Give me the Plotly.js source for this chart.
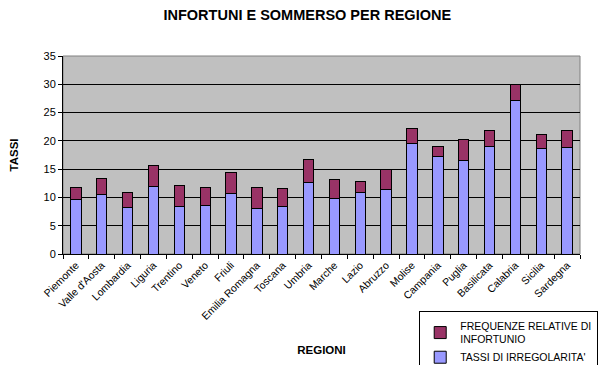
<!DOCTYPE html>
<html><head><meta charset="utf-8">
<script src="https://cdn.plot.ly/plotly-3.0.1.min.js"></script>
<style>body{margin:0;background:#fff}#c{width:599px;height:365px}</style>
</head><body><div id="c"></div>
<script>
const regioni = ["Piemonte","Valle d'Aosta","Lombardia","Liguria","Trentino","Veneto","Friuli","Emilia Romagna","Toscana","Umbria","Marche","Lazio","Abruzzo","Molise","Campania","Puglia","Basilicata","Calabria","Sicilia","Sardegna"];
const tassiIrregolarita = [9.7,10.6,8.3,12.0,8.4,8.6,10.7,8.1,8.4,12.7,9.8,10.9,11.4,19.6,17.3,16.6,19.0,27.2,18.7,18.9];
const frequenzeInfortunio = [2.1,2.8,2.6,3.7,3.7,3.2,3.7,3.7,3.2,4.0,3.4,1.9,3.5,2.6,1.7,3.7,2.9,2.8,2.5,3.0];
const yTicks = [0,5,10,15,20,25,30,35];

const traces = [
  {type:'bar', name:"TASSI DI IRREGOLARITA'", x:regioni, y:tassiIrregolarita,
   marker:{color:'#9999FF', line:{color:'#000', width:1}}},
  {type:'bar', name:"FREQUENZE RELATIVE DI<br>INFORTUNIO", x:regioni, y:frequenzeInfortunio,
   marker:{color:'#993366', line:{color:'#000', width:1}}}
];
const layout = {
  width:599, height:365, barmode:'stack', bargap:0.6,
  margin:{l:63, r:19, t:56, b:111, autoexpand:false},
  paper_bgcolor:'#fff', plot_bgcolor:'#C0C0C0',
  font:{family:'Arial, Liberation Sans, sans-serif', color:'#000', size:11},
  title:{text:'<b>INFORTUNI E SOMMERSO PER REGIONE</b>', x:0.513, xanchor:'center', y:0.96, yanchor:'middle', font:{size:14.5}},
  xaxis:{type:'category', tickangle:-45, tickson:'boundaries', ticks:'outside', ticklen:4, tickcolor:'#000',
    showline:true, linecolor:'#000', linewidth:1, showgrid:false, tickfont:{size:10.5}, automargin:false,
    title:{text:'<b>REGIONI</b>', font:{size:11.5}, standoff:24}},
  yaxis:{range:[0,35], tickvals:yTicks, ticks:'outside', ticklen:4, tickcolor:'#000', automargin:false,
    showline:true, linecolor:'#000', linewidth:1, gridcolor:'#000', gridwidth:1, zeroline:false,
    tickfont:{size:11}, title:{text:'<b>TASSI</b>', font:{size:11.5}, standoff:22}},
  showlegend:true,
  legend:{traceorder:'reversed', x:0.689, xanchor:'left', y:-0.29, yanchor:'top',
    bgcolor:'#fff', bordercolor:'#000', borderwidth:1, font:{size:10.5}, itemwidth:30, tracegroupgap:0},
  shapes:[{type:'rect', xref:'paper', yref:'paper', x0:0, x1:1, y0:0, y1:1, line:{color:'#808080', width:1}, layer:'below'}]
};
Plotly.newPlot('c', traces, layout, {displayModeBar:false, staticPlot:true});
</script></body></html>
